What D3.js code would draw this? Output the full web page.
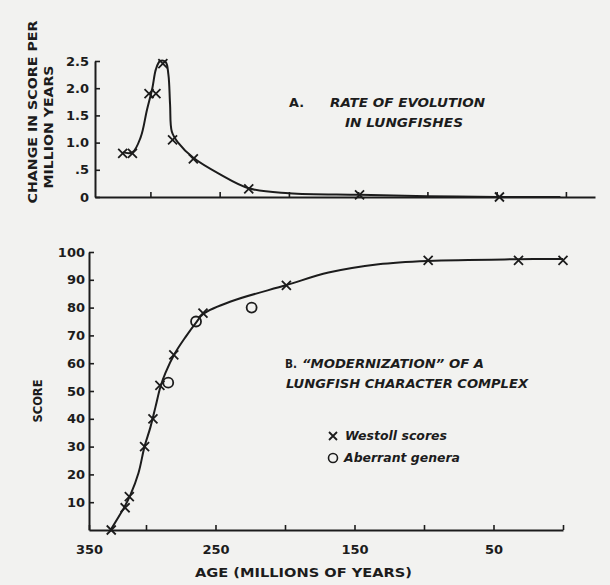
<!DOCTYPE html>
<html>
<head>
<meta charset="utf-8">
<script src="https://cdn.jsdelivr.net/npm/d3@7"></script>
<style>
	body { margin: 0; background: #f2f2f0; }
	svg { display: block; }
	text { font-family: "DejaVu Sans", sans-serif; font-weight: bold; fill: #1c1c1c; }
</style>
</head>
<body>
<div id="chart"></div>
<script>
// A. rate of evolution: X marks (age in My, change per My)
var rateAges   = [320, 313, 301, 296, 291, 284, 269, 229, 149, 48];
var rateValues = [0.8, 0.8, 1.9, 1.9, 2.45, 1.05, 0.7, 0.15, 0.04, 0];

// hand-drawn fitted curve
var rateCurve = [
	[320, 0.82], [313, 0.82], [307, 1.1], [302.5, 1.6], [298.6, 2.0], [296, 2.35],
	[293, 2.5], [289, 2.48], [287, 2.25], [285.8, 1.7], [284.5, 1.2],
	[280, 1.0], [269, 0.72], [250, 0.42], [229, 0.16], [200, 0.07],
	[149, 0.04], [100, 0.015], [49, 0], [4, 0]
];

// B. modernization score
var westollAges   = [325, 315, 312, 301, 295, 290, 280, 259, 199, 97, 32, 0];
var westollScores = [0, 8, 12, 30, 40, 52, 63, 78, 88, 97, 97, 97];
var aberrantAges   = [284, 264, 224];
var aberrantScores = [53, 75, 80];

var scoreCurve = [
	[325.5, 0], [315.5, 8.3], [311.2, 12.6], [305.4, 20.5], [301.1, 29.9],
	[296.8, 37], [293.2, 44.2], [289.6, 51.5], [286, 56.5], [279.5, 63.3],
	[271.6, 69.4], [263.7, 74.8], [258.6, 77.8], [238.5, 82.3], [198.9, 88.1],
	[168.7, 92.6], [132.7, 95.6], [96.8, 96.8], [32, 97.4], [0, 97.5]
];

var rateTicks   = [0, 0.5, 1, 1.5, 2, 2.5];
var scoreTicks  = [10, 20, 30, 40, 50, 60, 70, 80, 90, 100];
var ageTicks    = [350, 300, 250, 200, 150, 100, 50, 0];
var ageLabels   = [350, 250, 150, 50];

var ink = "#1c1c1c";

// SVG drawing area
var svg = d3.select("#chart").append("svg")
	.attr("width", 610)
	.attr("height", 585);

svg.append("rect").attr("width", 610).attr("height", 585).attr("fill", "#f2f2f0");

// scales
var xA = d3.scaleLinear().domain([340, -21]).range([95, 595]).clamp(true);
var yA = d3.scaleLinear().domain([0, 2.5]).range([197, 61]);
var xB = d3.scaleLinear().domain([341, 0]).range([89, 563]).clamp(true);
var yB = d3.scaleLinear().domain([0, 100]).range([530, 252]);

function styleAxis(g, size) {
	g.select(".domain").attr("stroke", ink).attr("stroke-width", 2);
	g.selectAll(".tick line").attr("stroke", ink).attr("stroke-width", 1.6);
	g.selectAll(".tick text").attr("font-size", size).attr("fill", ink)
		.attr("font-family", "DejaVu Sans").attr("font-weight", "bold");
}

function crossPath(x, y, r) {
	return "M" + (x - r) + "," + (y - r) + "L" + (x + r) + "," + (y + r) +
		"M" + (x - r) + "," + (y + r) + "L" + (x + r) + "," + (y - r);
}

// ---- panel A ----
var gA = svg.append("g");

gA.append("g")
	.attr("transform", "translate(0," + yA(0) + ")")
	.call(d3.axisBottom(xA).tickValues(ageTicks.filter(function(d){ return d < 340; }))
		.tickSize(-5).tickSizeOuter(0).tickFormat(""))
	.call(styleAxis, 13);

gA.append("g")
	.attr("transform", "translate(" + xA(340) + ",0)")
	.call(d3.axisLeft(yA).tickValues(rateTicks).tickSize(-5).tickSizeOuter(0).tickPadding(6)
		.tickFormat(function(d){
			if (d === 0) return "0";
			if (d < 1) return ".5";
			return d3.format(".1f")(d);
		}))
	.call(styleAxis, 13);

gA.append("path")
	.datum(rateCurve)
	.attr("fill", "none")
	.attr("stroke", ink)
	.attr("stroke-width", 2)
	.attr("d", d3.line()
		.x(function(d){ return xA(d[0]); })
		.y(function(d){ return yA(d[1]); })
		.curve(d3.curveCatmullRom.alpha(0.5)));

gA.selectAll(".markA")
	.data(rateAges)
	.enter().append("path")
	.attr("class", "markA")
	.attr("fill", "none")
	.attr("stroke", ink)
	.attr("stroke-width", 1.8)
	.attr("d", function(d, i){ return crossPath(xA(d), yA(rateValues[i]), 4.5); });

// ---- panel B ----
var gB = svg.append("g");

gB.append("g")
	.attr("transform", "translate(0," + yB(0) + ")")
	.call(d3.axisBottom(xB).tickValues(ageTicks).tickSize(-5).tickSizeOuter(0).tickPadding(15)
		.tickFormat(function(d){ return ageLabels.indexOf(d) >= 0 ? d : ""; }))
	.call(styleAxis, 13);

gB.append("g")
	.attr("transform", "translate(" + xB(341) + ",0)")
	.call(d3.axisLeft(yB).tickValues(scoreTicks).tickSize(-5).tickSizeOuter(0).tickPadding(4))
	.call(styleAxis, 13);

gB.append("path")
	.datum(scoreCurve)
	.attr("fill", "none")
	.attr("stroke", ink)
	.attr("stroke-width", 2)
	.attr("d", d3.line()
		.x(function(d){ return xB(d[0]); })
		.y(function(d){ return yB(d[1]); })
		.curve(d3.curveCatmullRom.alpha(0.5)));

gB.selectAll(".markB")
	.data(westollAges)
	.enter().append("path")
	.attr("class", "markB")
	.attr("fill", "none")
	.attr("stroke", ink)
	.attr("stroke-width", 1.8)
	.attr("d", function(d, i){ return crossPath(xB(d), yB(westollScores[i]), 4.5); });

gB.selectAll(".circB")
	.data(aberrantAges)
	.enter().append("circle")
	.attr("class", "circB")
	.attr("cx", function(d){ return xB(d); })
	.attr("cy", function(d, i){ return yB(aberrantScores[i]); })
	.attr("r", 5)
	.attr("fill", "none")
	.attr("stroke", ink)
	.attr("stroke-width", 1.8);

// ---- text ----
function label(x, y, str, size, len, italic, rotate) {
	var t = svg.append("text")
		.attr("font-size", size)
		.attr("textLength", len)
		.attr("lengthAdjust", "spacingAndGlyphs")
		.attr("font-style", italic ? "italic" : "normal")
		.text(str);
	if (rotate) {
		t.attr("text-anchor", "middle")
			.attr("transform", "translate(" + x + "," + y + ") rotate(-90)");
	} else {
		t.attr("x", x).attr("y", y);
	}
	return t;
}

label(37, 112, "CHANGE IN SCORE PER", 13, 183, false, true);
label(53, 127, "MILLION YEARS", 13, 123, false, true);
label(42, 401, "SCORE", 13, 43, false, true);
label(195, 577, "AGE (MILLIONS OF YEARS)", 13, 217, false, false);

label(289, 107, "A.", 13, 15, false, false);
label(330, 107, "RATE OF EVOLUTION", 12, 155, true, false);
label(345, 127, "IN LUNGFISHES", 12, 118, true, false);

label(285, 368, "B.", 12, 12, false, false);
label(302, 368, "\u201CMODERNIZATION\u201D OF A", 12, 182, true, false);
label(286, 388, "LUNGFISH CHARACTER COMPLEX", 12, 242, true, false);

// legend
svg.append("path")
	.attr("fill", "none").attr("stroke", ink).attr("stroke-width", 1.8)
	.attr("d", crossPath(333, 436, 4));
svg.append("circle")
	.attr("cx", 333).attr("cy", 458).attr("r", 4.5)
	.attr("fill", "none").attr("stroke", ink).attr("stroke-width", 1.6);
label(345, 440, "Westoll scores", 12, 102, true, false);
label(344, 462, "Aberrant genera", 12, 116, true, false);
</script>
</body>
</html>
